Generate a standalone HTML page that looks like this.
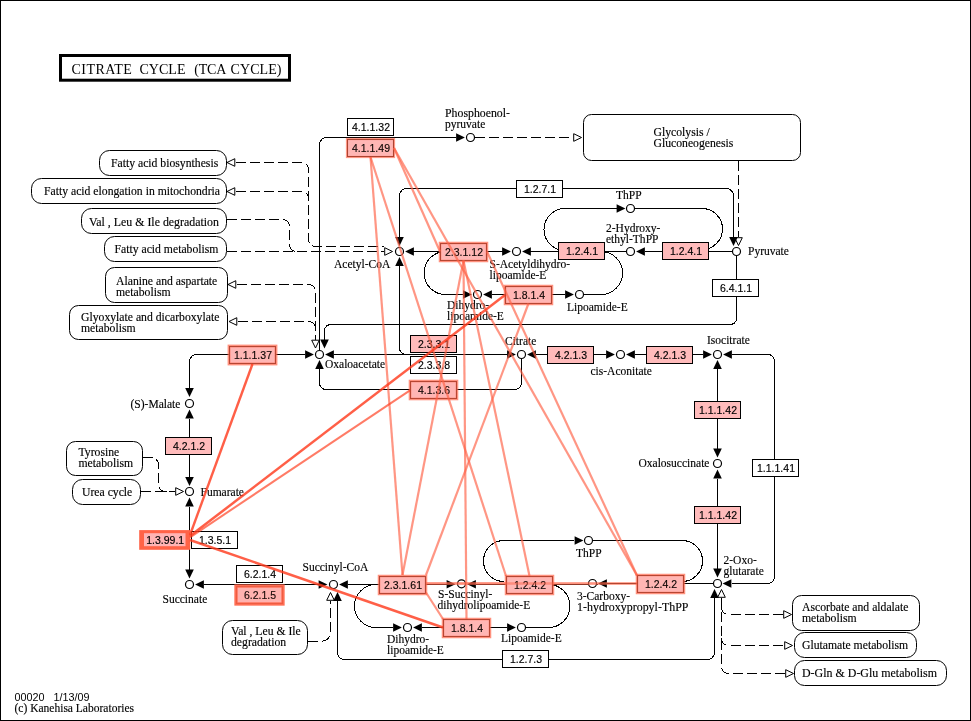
<!DOCTYPE html>
<html><head><meta charset="utf-8"><title>Citrate cycle (TCA cycle)</title>
<style>
html,body{margin:0;padding:0;background:#fff;}
body{width:971px;height:721px;overflow:hidden;}
svg{display:block;transform:translateZ(0);}
.k{fill:none;stroke:#000;stroke-width:1;shape-rendering:crispEdges;}
.d{fill:none;stroke:#000;stroke-width:1;stroke-dasharray:10 4;shape-rendering:crispEdges;}
.c{fill:#fff;stroke:#000;stroke-width:1.2;}
.af{fill:#000;stroke:none;}
.ao{fill:#fff;stroke:#000;stroke-width:1;}
.eb{stroke:#000;stroke-width:1;shape-rendering:crispEdges;}
.mb{fill:#fff;stroke:#000;stroke-width:1;}
.et{font-family:"Liberation Sans",sans-serif;font-size:10.5px;text-anchor:middle;fill:#000;stroke:#000;stroke-width:0.15px;}
.st{font-family:"Liberation Serif",serif;font-size:12px;fill:#000;stroke:#000;stroke-width:0.15px;}
.ft{font-family:"Liberation Sans",sans-serif;font-size:10.8px;fill:#000;}
.tt{font-family:"Liberation Serif",serif;font-size:14px;fill:#000;}
</style></head>
<body>
<svg width="971" height="721" viewBox="0 0 971 721">
<rect x="0.5" y="0.5" width="970" height="720" fill="none" stroke="#000" stroke-width="1"/>
<rect x="60.5" y="55.5" width="229" height="24.7" fill="none" stroke="#000" stroke-width="3"/>
<text x="71.4" y="74" class="tt" textLength="60.5" lengthAdjust="spacing">CITRATE</text>
<text x="139.5" y="74" class="tt" textLength="46" lengthAdjust="spacing">CYCLE</text>
<text x="194.3" y="74" class="tt" textLength="32" lengthAdjust="spacing">(TCA</text>
<text x="230.5" y="74" class="tt" textLength="51" lengthAdjust="spacing">CYCLE)</text>
<rect x="99.5" y="150.5" width="127.0" height="25.0" rx="10" ry="10" class="mb"/>
<text transform="translate(111,166.5) scale(0.975,1)" class="st">Fatty acid biosynthesis</text>
<rect x="31.5" y="178.5" width="195.0" height="25.0" rx="10" ry="10" class="mb"/>
<text transform="translate(44,194.5) scale(0.975,1)" class="st">Fatty acid elongation in mitochondria</text>
<rect x="81.5" y="208.5" width="145.0" height="25.0" rx="10" ry="10" class="mb"/>
<text transform="translate(89,225.5) scale(0.99,1)" class="st">Val , Leu &amp; Ile degradation</text>
<rect x="104.5" y="236.5" width="122.0" height="25.0" rx="10" ry="10" class="mb"/>
<text transform="translate(114.5,252.5) scale(0.975,1)" class="st">Fatty acid metabolism</text>
<rect x="105.5" y="267.5" width="122.0" height="35.0" rx="9" ry="9" class="mb"/>
<text transform="translate(116,285) scale(0.975,1)" class="st">Alanine and aspartate</text>
<text transform="translate(116,296) scale(0.975,1)" class="st">metabolism</text>
<rect x="69.5" y="305.5" width="158.0" height="34.0" rx="9" ry="9" class="mb"/>
<text transform="translate(81,321) scale(0.975,1)" class="st">Glyoxylate and dicarboxylate</text>
<text transform="translate(81,332) scale(0.975,1)" class="st">metabolism</text>
<rect x="66.5" y="441.5" width="76.0" height="34.0" rx="9" ry="9" class="mb"/>
<text transform="translate(78.5,456) scale(0.975,1)" class="st">Tyrosine</text>
<text transform="translate(78.5,467) scale(0.975,1)" class="st">metabolism</text>
<rect x="72.5" y="479.5" width="68.0" height="25.0" rx="10" ry="10" class="mb"/>
<text transform="translate(82,496) scale(0.975,1)" class="st">Urea cycle</text>
<rect x="222.5" y="620.5" width="85.0" height="34.0" rx="10" ry="10" class="mb"/>
<text transform="translate(231,635.3) scale(0.975,1)" class="st">Val , Leu &amp; Ile</text>
<text transform="translate(231,646.3) scale(0.975,1)" class="st">degradation</text>
<rect x="583.5" y="114.5" width="217.0" height="46.0" rx="8" ry="8" class="mb"/>
<text transform="translate(653.5,136) scale(0.975,1)" class="st">Glycolysis /</text>
<text transform="translate(653.5,147) scale(0.975,1)" class="st">Gluconeogenesis</text>
<rect x="792.5" y="595.5" width="127.0" height="35.0" rx="9" ry="9" class="mb"/>
<text transform="translate(802,611) scale(0.975,1)" class="st">Ascorbate and aldalate</text>
<text transform="translate(802,622) scale(0.975,1)" class="st">metabolism</text>
<rect x="794.5" y="632.5" width="122.0" height="25.0" rx="10" ry="10" class="mb"/>
<text transform="translate(802,648.5) scale(0.975,1)" class="st">Glutamate metabolism</text>
<rect x="794.5" y="660.5" width="152.0" height="25.0" rx="10" ry="10" class="mb"/>
<text transform="translate(802,676.5) scale(0.995,1)" class="st">D-Gln &amp; D-Glu metabolism</text>
<path d="M235.5,162.5 H300.5 Q308.5,162.5 308.5,170.5 V238.5 Q308.5,246.5 316.5,246.5 H384" class="d"/>
<path d="M235.5,191.5 H300.5 Q308.5,191.5 308.5,199.5" class="d"/>
<path d="M226.5,219.5 H281.5 Q289.5,219.5 289.5,227.5 V243.5 Q289.5,251.5 297.5,251.5" class="d"/>
<path d="M226.5,251.5 H384" class="d"/>
<path d="M236.5,284.5 H307.5 Q315.5,284.5 315.5,292.5 V340" class="d"/>
<path d="M237.5,321.5 H307.5 Q315.5,321.5 315.5,329.5" class="d"/>
<path d="M475,137.5 H573" class="d"/>
<path d="M738.5,160.5 V237" class="d"/>
<path d="M142.5,457.5 H150.5 Q158.5,457.5 158.5,465.5 V483.5 Q158.5,491.5 166.5,491.5" class="d"/>
<path d="M140.5,491.5 H175" class="d"/>
<path d="M307.5,641.5 H319.5 Q330.5,641.5 330.5,630.5 V600.5" class="d"/>
<path d="M721.5,598 V665.5 Q721.5,673.5 729.5,673.5 H785" class="d"/>
<path d="M721.5,606.5 Q721.5,614.5 729.5,614.5 H783" class="d"/>
<path d="M721.5,637.5 Q721.5,645.5 729.5,645.5 H784" class="d"/>
<polygon points="227.00,162.50 234.80,158.70 234.80,166.30" class="ao"/>
<polygon points="227.00,191.50 234.80,187.70 234.80,195.30" class="ao"/>
<polygon points="392.50,251.50 384.70,247.70 384.70,255.30" class="ao"/>
<polygon points="228.00,284.50 235.80,280.70 235.80,288.30" class="ao"/>
<polygon points="229.00,321.50 236.80,317.70 236.80,325.30" class="ao"/>
<polygon points="581.50,137.50 573.70,133.70 573.70,141.30" class="ao"/>
<polygon points="738.50,245.50 734.70,237.70 742.30,237.70" class="ao"/>
<polygon points="315.50,348.00 311.70,340.20 319.30,340.20" class="ao"/>
<polygon points="183.50,491.50 175.70,487.70 175.70,495.30" class="ao"/>
<polygon points="330.50,592.50 326.70,600.30 334.30,600.30" class="ao"/>
<polygon points="721.50,589.50 717.70,597.30 725.30,597.30" class="ao"/>
<polygon points="791.50,614.50 783.70,610.70 783.70,618.30" class="ao"/>
<polygon points="792.50,645.50 784.70,641.70 784.70,649.30" class="ao"/>
<polygon points="793.50,673.50 785.70,669.70 785.70,677.30" class="ao"/>
<path d="M319.5,350 V145.5 Q319.5,137.5 327.5,137.5 H456" class="k"/>
<polygon points="464.90,137.50 456.10,133.20 456.10,141.80" class="af"/>
<path d="M399.5,237.5 V196.5 Q399.5,188.5 407.5,188.5 H725.5 Q733.5,188.5 733.5,196.5 V237.5" class="k"/>
<polygon points="399.50,245.90 395.20,237.10 403.80,237.10" class="af"/>
<polygon points="733.50,245.90 729.20,237.10 737.80,237.10" class="af"/>
<path d="M413,251.5 H502.5" class="k"/>
<polygon points="405.10,251.50 413.90,247.20 413.90,255.80" class="af"/>
<polygon points="510.90,251.50 502.10,247.20 502.10,255.80" class="af"/>
<path d="M530,251.5 H626" class="k"/>
<polygon points="522.10,251.50 530.90,247.20 530.90,255.80" class="af"/>
<path d="M645,251.5 H732" class="k"/>
<polygon points="636.10,251.50 644.90,247.20 644.90,255.80" class="af"/>
<path d="M616.5,208.5 H565 A21,21 0 0 0 565,250.5" class="k"/>
<polygon points="625.40,208.50 616.60,204.20 616.60,212.80" class="af"/>
<path d="M634.5,208.5 H702 A20.5,20.5 0 0 1 702,249.5" class="k"/>
<path d="M601,251.5 A21.5,21.5 0 0 1 601,294.5 H583.5" class="k"/>
<path d="M552,294.5 H565" class="k"/>
<polygon points="573.90,294.50 565.10,290.20 565.10,298.80" class="af"/>
<path d="M492,294.5 H505" class="k"/>
<polygon points="483.10,294.50 491.90,290.20 491.90,298.80" class="af"/>
<path d="M463,294.5 H445.5 A21.5,21.5 0 0 1 445.5,251.5" class="k"/>
<polygon points="471.90,294.50 463.10,290.20 463.10,298.80" class="af"/>
<path d="M736.5,255.5 V317.5 Q736.5,324.5 729.5,324.5 H331.5 Q324.5,324.5 324.5,331.5 V340" class="k"/>
<polygon points="324.50,348.40 320.20,339.60 328.80,339.60" class="af"/>
<path d="M399.5,266 V347 Q399.5,354.5 407,354.5" class="k"/>
<polygon points="399.50,257.10 395.20,265.90 403.80,265.90" class="af"/>
<path d="M229,354.5 H197.5 Q189.5,354.5 189.5,362.5 V388" class="k"/>
<polygon points="189.50,396.90 185.20,388.10 193.80,388.10" class="af"/>
<path d="M275,354.5 H305" class="k"/>
<polygon points="313.90,354.50 305.10,350.20 305.10,358.80" class="af"/>
<path d="M334,354.5 H507" class="k"/>
<polygon points="325.10,354.50 333.90,350.20 333.90,358.80" class="af"/>
<polygon points="515.90,354.50 507.10,350.20 507.10,358.80" class="af"/>
<path d="M536,354.5 H606" class="k"/>
<polygon points="527.10,354.50 535.90,350.20 535.90,358.80" class="af"/>
<polygon points="614.90,354.50 606.10,350.20 606.10,358.80" class="af"/>
<path d="M635,354.5 H703" class="k"/>
<polygon points="626.10,354.50 634.90,350.20 634.90,358.80" class="af"/>
<polygon points="711.90,354.50 703.10,350.20 703.10,358.80" class="af"/>
<path d="M732,354.5 H767 Q774.5,354.5 774.5,362 V576 Q774.5,583.5 767,583.5 H731.5" class="k"/>
<polygon points="723.10,354.50 731.90,350.20 731.90,358.80" class="af"/>
<polygon points="722.60,583.50 731.40,579.20 731.40,587.80" class="af"/>
<path d="M319.5,369 V382 Q319.5,389.5 327,389.5 H514 Q521.5,389.5 521.5,382 V358.5" class="k"/>
<polygon points="319.50,360.10 315.20,368.90 323.80,368.90" class="af"/>
<path d="M717.5,369 V448.5" class="k"/>
<polygon points="717.50,360.10 713.20,368.90 721.80,368.90" class="af"/>
<polygon points="717.50,457.40 713.20,448.60 721.80,448.60" class="af"/>
<path d="M717.5,478.5 V568.5" class="k"/>
<polygon points="717.50,469.60 713.20,478.40 721.80,478.40" class="af"/>
<polygon points="717.50,577.40 713.20,568.60 721.80,568.60" class="af"/>
<path d="M189.5,418.5 V477" class="k"/>
<polygon points="189.50,409.60 185.20,418.40 193.80,418.40" class="af"/>
<polygon points="189.50,485.90 185.20,477.10 193.80,477.10" class="af"/>
<path d="M189.5,506.5 V569.5" class="k"/>
<polygon points="189.50,497.60 185.20,506.40 193.80,506.40" class="af"/>
<polygon points="189.50,578.40 185.20,569.60 193.80,569.60" class="af"/>
<path d="M203.5,584.5 H318.5" class="k"/>
<polygon points="195.10,584.50 203.90,580.20 203.90,588.80" class="af"/>
<polygon points="327.40,584.50 318.60,580.20 318.60,588.80" class="af"/>
<path d="M348,584.5 H380" class="k"/>
<path d="M426,584.5 H447" class="k"/>
<polygon points="339.10,584.50 347.90,580.20 347.90,588.80" class="af"/>
<polygon points="455.40,584.20 446.60,579.90 446.60,588.50" class="af"/>
<path d="M476,584.5 H598" class="k"/>
<polygon points="467.10,584.20 475.90,579.90 475.90,588.50" class="af"/>
<path d="M607,583.5 H713" class="k"/>
<polygon points="598.10,583.50 606.90,579.20 606.90,587.80" class="af"/>
<path d="M574,540.5 H504 A20.5,20.5 0 0 0 504,581.5" class="k"/>
<polygon points="583.40,540.50 574.60,536.20 574.60,544.80" class="af"/>
<path d="M592.5,540.5 H682 A20.5,20.5 0 0 1 682,581.5" class="k"/>
<path d="M381,584.5 H376 A21.5,21.5 0 0 0 376,627.5 H393" class="k"/>
<polygon points="401.90,627.50 393.10,623.20 393.10,631.80" class="af"/>
<path d="M422,627.5 H443" class="k"/>
<polygon points="413.10,627.50 421.90,623.20 421.90,631.80" class="af"/>
<path d="M490,627.5 H507" class="k"/>
<polygon points="515.90,627.50 507.10,623.20 507.10,631.80" class="af"/>
<path d="M525.5,627.5 H548.5 A21.5,21.5 0 0 0 548.5,584.5" class="k"/>
<path d="M337.5,600.5 V651.5 Q337.5,659.5 345.5,659.5 H706.5 Q714.5,659.5 714.5,651.5 V598" class="k"/>
<polygon points="337.50,592.10 333.20,600.90 341.80,600.90" class="af"/>
<polygon points="714.50,589.10 710.20,597.90 718.80,597.90" class="af"/>
<circle cx="470.5" cy="137.5" r="4" class="c"/>
<circle cx="630.5" cy="208.5" r="4" class="c"/>
<circle cx="399.5" cy="251.5" r="4" class="c"/>
<circle cx="516.5" cy="251.5" r="4" class="c"/>
<circle cx="630.5" cy="251.5" r="4" class="c"/>
<circle cx="736.5" cy="251.5" r="4" class="c"/>
<circle cx="477.5" cy="294.5" r="4" class="c"/>
<circle cx="579.5" cy="294.5" r="4" class="c"/>
<circle cx="319.5" cy="354.5" r="4" class="c"/>
<circle cx="521.5" cy="354.5" r="4" class="c"/>
<circle cx="620.5" cy="354.5" r="4" class="c"/>
<circle cx="717.5" cy="354.5" r="4" class="c"/>
<circle cx="717.5" cy="463.5" r="4" class="c"/>
<circle cx="717.5" cy="583.5" r="4" class="c"/>
<circle cx="189.5" cy="403.5" r="4" class="c"/>
<circle cx="189.5" cy="491.5" r="4" class="c"/>
<circle cx="189.5" cy="584.5" r="4" class="c"/>
<circle cx="333.5" cy="584.5" r="4" class="c"/>
<circle cx="461.5" cy="583.8" r="4" class="c"/>
<circle cx="592.5" cy="583.5" r="4" class="c"/>
<circle cx="588.5" cy="540.5" r="4" class="c"/>
<circle cx="407.5" cy="627.5" r="4" class="c"/>
<circle cx="521.5" cy="627.5" r="4" class="c"/>
<rect x="347.5" y="118.5" width="46.0" height="17.0" fill="#fff" class="eb"/>
<text x="371.0" y="131.0" class="et">4.1.1.32</text>
<rect x="516.5" y="180.5" width="46.0" height="17.0" fill="#fff" class="eb"/>
<text x="540.0" y="193.0" class="et">1.2.7.1</text>
<rect x="712.5" y="279.5" width="46.0" height="17.0" fill="#fff" class="eb"/>
<text x="736.0" y="292.0" class="et">6.4.1.1</text>
<rect x="410.5" y="356.5" width="46.0" height="17.0" fill="#fff" class="eb"/>
<text x="434.0" y="369.0" class="et">2.3.3.8</text>
<rect x="191.5" y="531.5" width="46.0" height="17.0" fill="#fff" class="eb"/>
<text x="215.0" y="544.0" class="et">1.3.5.1</text>
<rect x="236.5" y="565.5" width="46.0" height="17.0" fill="#fff" class="eb"/>
<text x="260.0" y="578.0" class="et">6.2.1.4</text>
<rect x="752.5" y="459.5" width="46.0" height="17.0" fill="#fff" class="eb"/>
<text x="776.0" y="472.0" class="et">1.1.1.41</text>
<rect x="502.5" y="650.5" width="46.0" height="17.0" fill="#fff" class="eb"/>
<text x="526.0" y="663.0" class="et">1.2.7.3</text>
<rect x="558.5" y="242.5" width="46.0" height="17.0" fill="#FFBBBB" class="eb"/>
<text x="582.0" y="255.0" class="et">1.2.4.1</text>
<rect x="662.5" y="242.5" width="46.0" height="17.0" fill="#FFBBBB" class="eb"/>
<text x="686.0" y="255.0" class="et">1.2.4.1</text>
<rect x="547.5" y="346.5" width="46.0" height="17.0" fill="#FFBBBB" class="eb"/>
<text x="571.0" y="359.0" class="et">4.2.1.3</text>
<rect x="646.5" y="346.5" width="46.0" height="17.0" fill="#FFBBBB" class="eb"/>
<text x="670.0" y="359.0" class="et">4.2.1.3</text>
<rect x="694.5" y="401.5" width="46.0" height="17.0" fill="#FFBBBB" class="eb"/>
<text x="718.0" y="414.0" class="et">1.1.1.42</text>
<rect x="694.5" y="506.5" width="46.0" height="17.0" fill="#FFBBBB" class="eb"/>
<text x="718.0" y="519.0" class="et">1.1.1.42</text>
<rect x="165.5" y="437.5" width="46.0" height="17.0" fill="#FFBBBB" class="eb"/>
<text x="189.0" y="450.0" class="et">4.2.1.2</text>
<rect x="410.5" y="335.5" width="46.0" height="17.0" fill="#FFBBBB" class="eb"/>
<text x="434.0" y="348.0" class="et">2.3.3.1</text>
<rect x="347.5" y="139.5" width="46" height="17" fill="#FFBBBB" class="eb"/>
<text x="371.0" y="152.0" class="et">4.1.1.49</text>
<rect x="440.5" y="243.5" width="46" height="17" fill="#FFBBBB" class="eb"/>
<text x="464.0" y="256.0" class="et">2.3.1.12</text>
<rect x="505.5" y="286.5" width="46" height="17" fill="#FFBBBB" class="eb"/>
<text x="529.0" y="299.0" class="et">1.8.1.4</text>
<rect x="229.5" y="346.5" width="46" height="17" fill="#FFBBBB" class="eb"/>
<text x="253.0" y="359.0" class="et">1.1.1.37</text>
<rect x="410.5" y="381.5" width="46" height="17" fill="#FFBBBB" class="eb"/>
<text x="434.0" y="394.0" class="et">4.1.3.6</text>
<rect x="236.5" y="586.5" width="46" height="17" fill="#FFBBBB" class="eb"/>
<text x="260.0" y="599.0" class="et">6.2.1.5</text>
<rect x="379.5" y="576.5" width="46" height="17" fill="#FFBBBB" class="eb"/>
<text x="403.0" y="589.0" class="et">2.3.1.61</text>
<rect x="506.5" y="576.5" width="46" height="17" fill="#FFBBBB" class="eb"/>
<text x="530.0" y="589.0" class="et">1.2.4.2</text>
<rect x="637.5" y="575.5" width="46" height="17" fill="#FFBBBB" class="eb"/>
<text x="661.0" y="588.0" class="et">1.2.4.2</text>
<rect x="443.5" y="619.5" width="46" height="17" fill="#FFBBBB" class="eb"/>
<text x="467.0" y="632.0" class="et">1.8.1.4</text>
<rect x="139.2" y="530.1" width="51" height="19.7" fill="#FF6347"/>
<rect x="144" y="533.2" width="41.5" height="13" fill="#FFB4B4"/>
<text x="165.2" y="543.6" class="et">1.3.99.1</text>
<text transform="translate(445,117) scale(0.985,1)" class="st" >Phosphoenol-</text>
<text transform="translate(445,128) scale(0.96,1)" class="st" >pyruvate</text>
<text transform="translate(616,199) scale(0.96,1)" class="st" >ThPP</text>
<text transform="translate(606,232) scale(0.96,1)" class="st" >2-Hydroxy-</text>
<text transform="translate(606,243) scale(0.96,1)" class="st" >ethyl-ThPP</text>
<text transform="translate(748,255) scale(0.96,1)" class="st" >Pyruvate</text>
<text transform="translate(334,267.5) scale(0.96,1)" class="st" >Acetyl-CoA</text>
<text transform="translate(489.5,268) scale(0.96,1)" class="st" >S-Acetyldihydro-</text>
<text transform="translate(489.5,279) scale(0.96,1)" class="st" >lipoamide-E</text>
<text transform="translate(447,308.5) scale(0.96,1)" class="st" >Dihydro-</text>
<text transform="translate(447,319.5) scale(0.96,1)" class="st" >lipoamide-E</text>
<text transform="translate(567,310.5) scale(0.96,1)" class="st" >Lipoamide-E</text>
<text transform="translate(325,367.5) scale(0.96,1)" class="st" >Oxaloacetate</text>
<text transform="translate(505,345) scale(0.96,1)" class="st" >Citrate</text>
<text transform="translate(590.5,374.5) scale(0.96,1)" class="st" >cis-Aconitate</text>
<text transform="translate(707,343.5) scale(0.96,1)" class="st" >Isocitrate</text>
<text transform="translate(638.5,467) scale(0.96,1)" class="st" >Oxalosuccinate</text>
<text transform="translate(130.5,407.5) scale(0.96,1)" class="st" >(S)-Malate</text>
<text transform="translate(200.5,496) scale(0.96,1)" class="st" >Fumarate</text>
<text transform="translate(162.5,602.5) scale(0.96,1)" class="st" >Succinate</text>
<text transform="translate(302.5,570.5) scale(0.96,1)" class="st" >Succinyl-CoA</text>
<text transform="translate(438,597.5) scale(0.96,1)" class="st" >S-Succinyl-</text>
<text transform="translate(437.5,608.5) scale(0.96,1)" class="st" >dihydrolipoamide-E</text>
<text transform="translate(387,642.5) scale(0.96,1)" class="st" >Dihydro-</text>
<text transform="translate(387,653.5) scale(0.96,1)" class="st" >lipoamide-E</text>
<text transform="translate(501,641.5) scale(0.96,1)" class="st" >Lipoamide-E</text>
<text transform="translate(576,556.5) scale(0.96,1)" class="st" >ThPP</text>
<text transform="translate(577,600) scale(0.96,1)" class="st" >3-Carboxy-</text>
<text transform="translate(577,611) scale(0.995,1)" class="st" >1-hydroxypropyl-ThPP</text>
<text transform="translate(723.5,564) scale(0.96,1)" class="st" >2-Oxo-</text>
<text transform="translate(723.5,575) scale(0.96,1)" class="st" >glutarate</text>
<text transform="translate(14.5,700.5) scale(1,1)" class="ft" xml:space="preserve">00020   1/13/09</text>
<text transform="translate(14.5,711.5) scale(0.96,1)" class="st" >(c) Kanehisa Laboratories</text>
<rect x="347.0" y="139.0" width="47" height="18" fill="rgb(255,99,71)" fill-opacity="0.06" stroke="rgb(255,99,71)" stroke-width="2.2" stroke-opacity="0.66"/>
<rect x="440.0" y="243.0" width="47" height="18" fill="rgb(255,99,71)" fill-opacity="0.06" stroke="rgb(255,99,71)" stroke-width="2.5" stroke-opacity="0.7"/>
<rect x="505.0" y="286.0" width="47" height="18" fill="rgb(255,99,71)" fill-opacity="0.06" stroke="rgb(255,99,71)" stroke-width="2.5" stroke-opacity="0.7"/>
<rect x="229.0" y="346.0" width="47" height="18" fill="rgb(255,99,71)" fill-opacity="0.06" stroke="rgb(255,99,71)" stroke-width="2.8" stroke-opacity="0.7"/>
<rect x="410.0" y="381.0" width="47" height="18" fill="rgb(255,99,71)" fill-opacity="0.06" stroke="rgb(255,99,71)" stroke-width="2.6" stroke-opacity="0.7"/>
<rect x="236.0" y="586.0" width="47" height="18" fill="rgb(255,99,71)" fill-opacity="0.1" stroke="rgb(255,99,71)" stroke-width="3.3" stroke-opacity="0.93"/>
<rect x="379.0" y="576.0" width="47" height="18" fill="rgb(255,99,71)" fill-opacity="0.06" stroke="rgb(255,99,71)" stroke-width="2.5" stroke-opacity="0.7"/>
<rect x="506.0" y="576.0" width="47" height="18" fill="rgb(255,99,71)" fill-opacity="0.06" stroke="rgb(255,99,71)" stroke-width="2.5" stroke-opacity="0.7"/>
<rect x="637.0" y="575.0" width="47" height="18" fill="rgb(255,99,71)" fill-opacity="0.06" stroke="rgb(255,99,71)" stroke-width="2.5" stroke-opacity="0.7"/>
<rect x="443.0" y="619.0" width="47" height="18" fill="rgb(255,99,71)" fill-opacity="0.06" stroke="rgb(255,99,71)" stroke-width="2.5" stroke-opacity="0.7"/>
<line x1="370.5" y1="157" x2="402.5" y2="575" stroke="rgb(255,99,71)" stroke-width="2.2" stroke-opacity="0.67"/>
<line x1="370.5" y1="157" x2="506" y2="576" stroke="rgb(255,99,71)" stroke-width="2.2" stroke-opacity="0.67"/>
<line x1="394" y1="148" x2="440" y2="251.5" stroke="rgb(255,99,71)" stroke-width="2.2" stroke-opacity="0.67"/>
<line x1="394" y1="148" x2="637" y2="575.5" stroke="rgb(255,99,71)" stroke-width="2.2" stroke-opacity="0.67"/>
<line x1="463.5" y1="260.5" x2="402.5" y2="575" stroke="rgb(255,99,71)" stroke-width="2.2" stroke-opacity="0.67"/>
<line x1="463.5" y1="260.5" x2="466.5" y2="619" stroke="rgb(255,99,71)" stroke-width="2.2" stroke-opacity="0.67"/>
<line x1="463.5" y1="260.5" x2="529.5" y2="576" stroke="rgb(255,99,71)" stroke-width="2.2" stroke-opacity="0.67"/>
<line x1="487" y1="251.5" x2="637" y2="575.5" stroke="rgb(255,99,71)" stroke-width="2.2" stroke-opacity="0.67"/>
<line x1="528.5" y1="303.5" x2="426" y2="575" stroke="rgb(255,99,71)" stroke-width="2.2" stroke-opacity="0.67"/>
<line x1="426" y1="592.5" x2="443" y2="619" stroke="rgb(255,99,71)" stroke-width="2.2" stroke-opacity="0.67"/>
<line x1="426" y1="583.5" x2="506" y2="583.5" stroke="rgb(255,99,71)" stroke-width="2.6" stroke-opacity="0.5"/>
<line x1="426" y1="583.5" x2="637" y2="583.5" stroke="rgb(255,99,71)" stroke-width="2.6" stroke-opacity="0.5"/>
<line x1="553" y1="583.5" x2="637" y2="583.5" stroke="rgb(255,99,71)" stroke-width="2.6" stroke-opacity="0.4"/>
<line x1="190" y1="535" x2="252.5" y2="364" stroke="rgb(255,60,30)" stroke-width="2.4" stroke-opacity="0.82"/>
<line x1="190" y1="536" x2="505" y2="295" stroke="rgb(255,60,30)" stroke-width="2.5" stroke-opacity="0.82"/>
<line x1="190" y1="537.3" x2="410" y2="390.3" stroke="rgb(255,60,30)" stroke-width="2.0" stroke-opacity="0.68"/>
<line x1="190" y1="540" x2="443" y2="627.5" stroke="rgb(255,60,30)" stroke-width="2.4" stroke-opacity="0.82"/>
</svg>
</body></html>
